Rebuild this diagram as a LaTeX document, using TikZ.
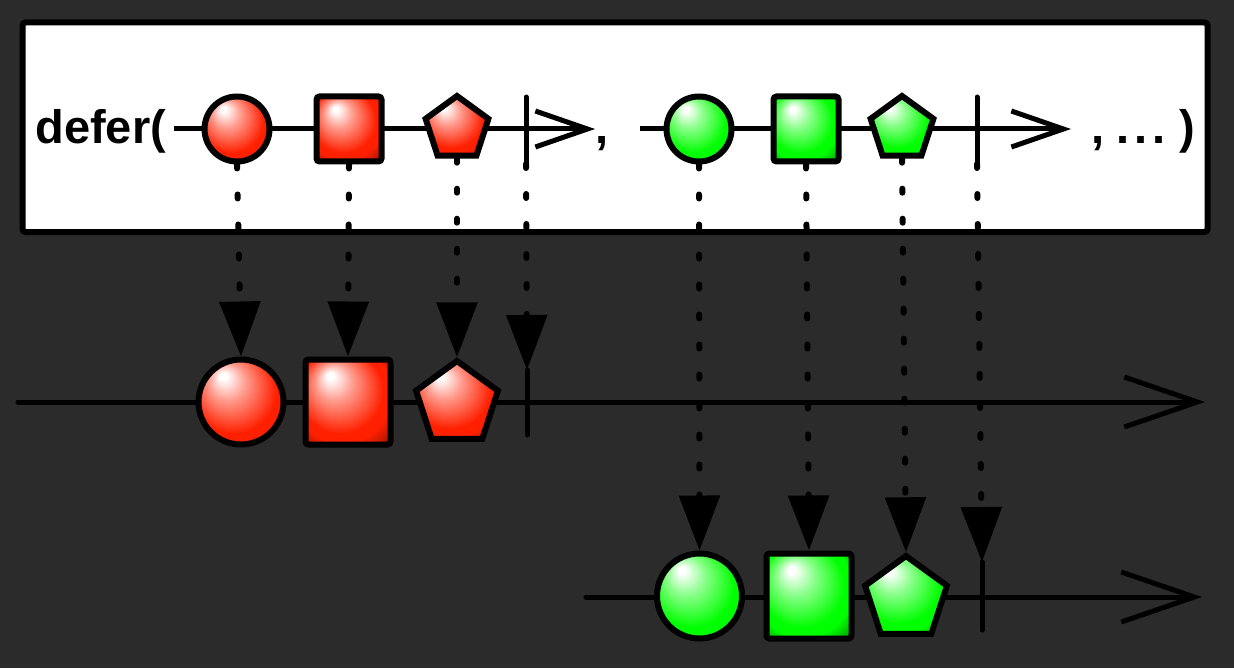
\documentclass[tikz,border=0pt]{standalone}
\usepackage{fontspec}
\setmainfont{Liberation Sans}
\usetikzlibrary{positioning}
\usetikzlibrary{arrows.meta}
\usetikzlibrary{shapes.geometric}

\definecolor{canvas}{HTML}{2B2B2B}
\definecolor{redfill}{HTML}{FF2000}
\definecolor{greenfill}{HTML}{00FF00}
\pgfdeclareradialshading{redglow}{\pgfpoint{-11bp}{16bp}}{color(0bp)=(white); color(2bp)=(white); color(11bp)=(redfill!45!white); color(25bp)=(redfill); color(29bp)=(redfill); color(42bp)=(redfill!35!black)}
\pgfdeclareradialshading{greenglow}{\pgfpoint{-11bp}{16bp}}{color(0bp)=(white); color(2bp)=(white); color(11bp)=(greenfill!45!white); color(25bp)=(greenfill); color(29bp)=(greenfill); color(42bp)=(greenfill!35!black)}

\begin{document}
\begin{tikzpicture}[
    x=0.5pt, y=-0.5pt,
    panel/.style={
        rectangle,
        draw,
        line width=3pt,
        rounded corners=1.5pt,
        fill=white,
        minimum width=592.5pt,
        minimum height=104.75pt,
        inner sep=0pt
    },
    word/.style={anchor=base west, inner sep=0pt, font=\fontsize{23.5pt}{28pt}\selectfont\bfseries},
    item/.style={draw, line width=3pt, inner sep=0pt, outer sep=1.5pt, shading=#1},
    orb/.style={item=#1, circle},
    tile/.style={item=#1, rectangle, rounded corners=1.5pt},
    penta/.style={item=#1, regular polygon, regular polygon sides=5},
    topsize/.style={minimum size=32.5pt},
    rowsize/.style={minimum size=42.5pt},
    toppenta/.style={minimum size=33pt},
    rowpenta/.style={minimum size=43pt},
    topline/.style={line width=2.5pt, -{Straight Barb[length=26pt,width=18pt]}},
    rowline/.style={line width=2.5pt, line cap=round, -{Straight Barb[length=36.5pt,width=25pt]}},
    stopbar/.style={line width=2.5pt, line cap=round},
    feed/.style={line width=3pt, line cap=round, dash pattern=on 2pt off 13pt, -{Triangle[length=27.5pt,width=20pt]}}
]
    \fill[canvas] (0,0) rectangle (1234,668);

    \node[panel] (deferbox) at (615,127.25) {};
    \node[word] (opener) at (35,144) {defer(};
    \node[word] (joiner) at (595,144) {,};
    \node[word] (closer) at (1091,144) {,\hspace{6pt}.\hspace{2.4pt}.\hspace{2.4pt}.\hspace{7pt})};

    \coordinate (r0) at (174,129);
    \coordinate (r1) at (595,129);
    \coordinate (g0) at (640,129);
    \coordinate (g1) at (1071,129);
    \coordinate (m0) at (18,402);
    \coordinate (m1) at (1205,402);
    \coordinate (b0) at (586,597);
    \coordinate (b1) at (1202,597);
    \draw[topline] (r0) -- (r1);
    \draw[topline] (g0) -- (g1);
    \draw[rowline] (m0) -- (m1);
    \draw[rowline] (b0) -- (b1);

    \node[orb=redglow, topsize] (rc) at (237,129) {};
    \node[tile=redglow, topsize] (rs) at (349,129) {};
    \node[penta=redglow, toppenta] (rp) at (457,129) {};
    \node[orb=greenglow, topsize] (gc) at (699,129) {};
    \node[tile=greenglow, topsize] (gs) at (806,129) {};
    \node[penta=greenglow, toppenta] (gp) at (902,129) {};

    \node[orb=redglow, rowsize] (mrc) at (241,402) {};
    \node[tile=redglow, rowsize] (mrs) at (348,402) {};
    \node[penta=redglow, rowpenta] (mrp) at (457,404) {};
    \node[orb=greenglow, rowsize] (bgc) at (699.5,596) {};
    \node[tile=greenglow, rowsize] (bgs) at (809,596) {};
    \node[penta=greenglow, rowpenta] (bgp) at (906,599) {};

    \coordinate (rt1) at (526,97);
    \coordinate (rt2) at (526,164);
    \coordinate (gt1) at (977,97);
    \coordinate (gt2) at (977,164);
    \coordinate (mt1) at (527,370);
    \coordinate (mt2) at (527,435);
    \coordinate (bt1) at (982,562);
    \coordinate (bt2) at (982,630);
    \draw[stopbar] (rt1) -- (rt2);
    \draw[stopbar] (gt1) -- (gt2);
    \draw[stopbar] (mt1) -- (mt2);
    \draw[stopbar] (bt1) -- (bt2);

    \draw[feed] (rc.south) -- (mrc.north);
    \draw[feed] (rs.south) -- (mrs.north);
    \draw[feed] (rp.south) -- (mrp.north);
    \draw[feed] (rt2) -- (mt1);
    \draw[feed] (gc.south) -- (bgc.north);
    \draw[feed] (gs.south) -- (bgs.north);
    \draw[feed] (gp.south) -- (bgp.north);
    \draw[feed] (gt2) -- (bt1);
\end{tikzpicture}
\end{document}
